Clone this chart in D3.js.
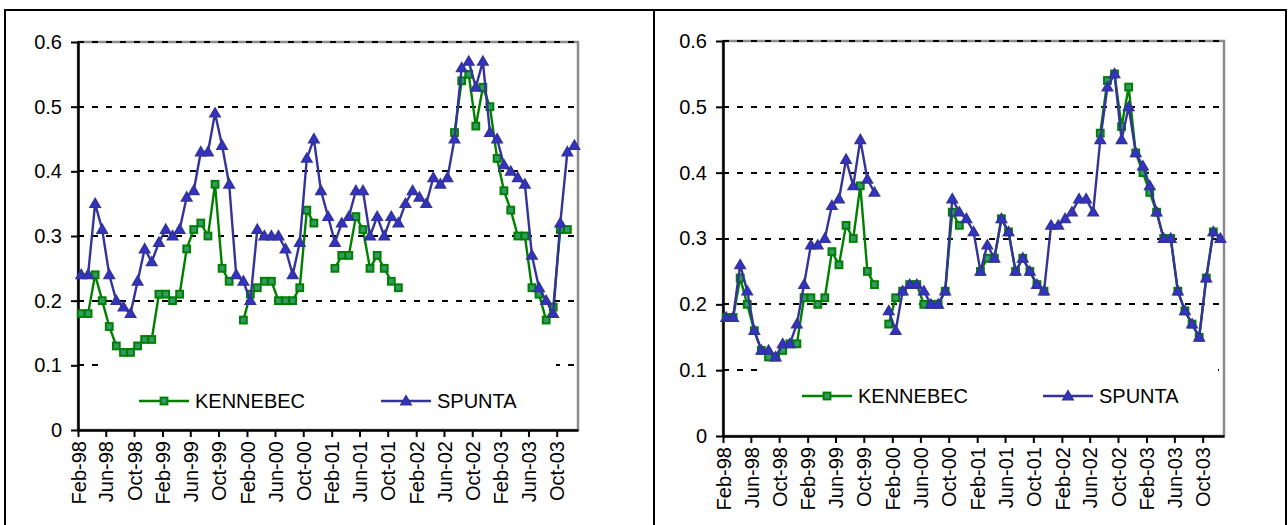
<!DOCTYPE html>
<meta charset="utf-8">

<head>
    <script src="https://d3js.org/d3.v7.min.js"></script>
    <meta charset="utf-8">
    <title>Kennebec / Spunta</title>
    <style>
        body { margin: 0; background: #fff; }
        text { font-family: "Liberation Sans", Arial, sans-serif; }
    </style>
</head>

<body>
    <svg width="1288" height="525"></svg>
    <script>
        // x tick labels (one every 4 months), y ticks
        var tickLabels = ["Feb-98", "Jun-98", "Oct-98", "Feb-99", "Jun-99", "Oct-99", "Feb-00", "Jun-00", "Oct-00",
            "Feb-01", "Jun-01", "Oct-01", "Feb-02", "Jun-02", "Oct-02", "Feb-03", "Jun-03", "Oct-03"]
        var yTicks = [0, 0.1, 0.2, 0.3, 0.4, 0.5, 0.6]
        var seriesNames = ["KENNEBEC", "SPUNTA"]
        var firstMonth = "Feb-98", lastMonth = "Dec-03"

        // left chart, monthly values Feb-98 .. Dec-03 (null = no value)
        var kennebecLeft = [0.18, 0.18, 0.24, 0.20, 0.16, 0.13, 0.12, 0.12, 0.13, 0.14,
            0.14, 0.21, 0.21, 0.20, 0.21, 0.28, 0.31, 0.32, 0.30, 0.38,
            0.25, 0.23, null, 0.17, 0.21, 0.22, 0.23, 0.23, 0.20, 0.20,
            0.20, 0.22, 0.34, 0.32, null, null, 0.25, 0.27, 0.27, 0.33,
            0.31, 0.25, 0.27, 0.25, 0.23, 0.22, null, null, null, null,
            null, null, null, 0.46, 0.54, 0.55, 0.47, 0.53, 0.50, 0.42,
            0.37, 0.34, 0.30, 0.30, 0.22, 0.21, 0.17, 0.19, 0.31, 0.31,
            null]
        var spuntaLeft = [0.24, 0.24, 0.35, 0.31, 0.24, 0.20, 0.19, 0.18, 0.23, 0.28,
            0.26, 0.29, 0.31, 0.30, 0.31, 0.36, 0.37, 0.43, 0.43, 0.49,
            0.44, 0.38, 0.24, 0.23, 0.20, 0.31, 0.30, 0.30, 0.30, 0.28,
            0.24, 0.29, 0.42, 0.45, 0.37, 0.33, 0.29, 0.32, 0.33, 0.37,
            0.37, 0.30, 0.33, 0.30, 0.33, 0.32, 0.35, 0.37, 0.36, 0.35,
            0.39, 0.38, 0.39, 0.45, 0.56, 0.57, 0.53, 0.57, 0.46, 0.45,
            0.41, 0.40, 0.39, 0.38, 0.27, 0.22, 0.20, 0.18, 0.32, 0.43,
            0.44]

        // right chart
        var kennebecRight = [0.18, 0.18, 0.24, 0.20, 0.16, 0.13, 0.12, 0.12, 0.13, 0.14,
            0.14, 0.21, 0.21, 0.20, 0.21, 0.28, 0.26, 0.32, 0.30, 0.38,
            0.25, 0.23, null, 0.17, 0.21, 0.22, 0.23, 0.23, 0.20, 0.20,
            0.20, 0.22, 0.34, 0.32, null, null, 0.25, 0.27, 0.27, 0.33,
            0.31, 0.25, 0.27, 0.25, 0.23, 0.22, null, null, null, null,
            null, null, null, 0.46, 0.54, 0.55, 0.47, 0.53, 0.43, 0.40,
            0.37, 0.34, 0.30, 0.30, 0.22, 0.19, 0.17, 0.15, 0.24, 0.31,
            null]
        var spuntaRight = [0.18, 0.18, 0.26, 0.22, 0.16, 0.13, 0.13, 0.12, 0.14, 0.14,
            0.17, 0.23, 0.29, 0.29, 0.30, 0.35, 0.36, 0.42, 0.38, 0.45,
            0.39, 0.37, null, 0.19, 0.16, 0.22, 0.23, 0.23, 0.22, 0.20,
            0.20, 0.22, 0.36, 0.34, 0.33, 0.31, 0.25, 0.29, 0.27, 0.33,
            0.31, 0.25, 0.27, 0.25, 0.23, 0.22, 0.32, 0.32, 0.33, 0.34,
            0.36, 0.36, 0.34, 0.45, 0.53, 0.55, 0.45, 0.50, 0.43, 0.41,
            0.38, 0.34, 0.30, 0.30, 0.22, 0.19, 0.17, 0.15, 0.24, 0.31,
            0.30]

        var parseMonth = d3.timeParse("%b-%y")
        var months = d3.timeMonth.range(parseMonth(firstMonth), d3.timeMonth.offset(parseMonth(lastMonth), 1))

        var svg = d3.select("svg")
        var fontSize = "20px"

        // table frame
        svg.append("rect").attr("x", 5).attr("y", 10).attr("width", 1281).attr("height", 530)
            .attr("fill", "none").attr("stroke", "#000").attr("stroke-width", 2)
        svg.append("line").attr("x1", 654).attr("x2", 654).attr("y1", 10).attr("y2", 525)
            .attr("stroke", "#000").attr("stroke-width", 2)

        var green = "#008000", greenFill = "#339966", blue = "#333399", blueFill = "#3333cc"

        function drawChart(box, legend, kennebec, spunta) {
            var g = svg.append("g")

            var x = d3.scaleTime()
                .domain([months[0], d3.timeMonth.offset(months[months.length - 1], 1)])
                .range([box.left, box.right])
            var y = d3.scaleLinear().domain([0, 0.6]).range([box.bottom, box.top])

            // points sit in the middle of their month
            function xMid(i) {
                var m = months[i]
                return x(new Date((+m + +d3.timeMonth.offset(m, 1)) / 2))
            }

            // plot area border
            g.append("rect")
                .attr("x", box.left).attr("y", box.top)
                .attr("width", box.right - box.left).attr("height", box.bottom - box.top)
                .attr("fill", "none").attr("stroke", "#8c8c8c").attr("stroke-width", 2.5)

            // gridlines
            g.append("g").selectAll("line")
                .data(yTicks.filter(function (d) { return d > 0 }))
                .join("line")
                .attr("x1", box.left).attr("x2", box.right - 2)
                .attr("y1", function (d) { return Math.round(y(d)) })
                .attr("y2", function (d) { return Math.round(y(d)) })
                .attr("stroke", "#000").attr("stroke-width", 2.2)
                .attr("stroke-dasharray", "6,8")

            // legend background hides the grid under it
            g.append("rect")
                .attr("x", legend.left).attr("y", legend.top)
                .attr("width", legend.right - legend.left).attr("height", legend.bottom - legend.top)
                .attr("fill", "#fff")

            // axes
            var yAxis = d3.axisLeft(y).tickValues(yTicks)
                .tickFormat(function (d) { return d === 0 ? "0" : d3.format(".1f")(d) })
                .tickSize(7).tickSizeOuter(0).tickPadding(9)
            var xAxis = d3.axisBottom(x).tickValues(tickLabels.map(parseMonth))
                .tickFormat(d3.timeFormat("%b-%y"))
                .tickSize(7).tickSizeOuter(0)

            var ya = g.append("g").attr("transform", "translate(" + box.left + ",0)").call(yAxis)
            var xa = g.append("g").attr("transform", "translate(0," + box.bottom + ")").call(xAxis)
            ;[ya, xa].forEach(function (a) {
                a.select(".domain").attr("stroke", "#000").attr("stroke-width", 2.5)
                a.selectAll(".tick line").attr("stroke", "#000").attr("stroke-width", 2)
                a.selectAll("text").attr("fill", "#000").style("font-size", fontSize)
                    .style("font-family", '"Liberation Sans", Arial, sans-serif')
            })
            xa.selectAll(".tick text")
                .attr("transform", "rotate(-90)")
                .attr("x", -11).attr("y", 0).attr("dy", "0.36em")
                .attr("text-anchor", "end")

            // series
            var series = [
                { name: seriesNames[0], values: kennebec, stroke: green, fill: greenFill, shape: "square" },
                { name: seriesNames[1], values: spunta, stroke: blue, fill: blueFill, shape: "triangle" }
            ]

            var line = d3.line()
                .defined(function (d) { return d.v != null })
                .x(function (d) { return xMid(d.i) })
                .y(function (d) { return y(d.v) })

            function marker(sel, s) {
                if (s.shape == "square") {
                    sel.append("rect").attr("x", -3.4).attr("y", -3.4).attr("width", 6.8).attr("height", 6.8)
                        .attr("fill", s.fill).attr("stroke", s.stroke).attr("stroke-width", 2)
                } else {
                    sel.append("path").attr("d", "M0,-5L5,3.6L-5,3.6Z")
                        .attr("fill", s.fill).attr("stroke", s.stroke).attr("stroke-width", 1.7)
                        .attr("stroke-linejoin", "miter")
                }
            }

            series.forEach(function (s) {
                var pts = s.values.map(function (v, i) { return { i: i, v: v } })
                g.append("path").datum(pts)
                    .attr("d", line)
                    .attr("fill", "none").attr("stroke", s.stroke).attr("stroke-width", 2.4)
                    .attr("stroke-linejoin", "round")
                g.append("g").selectAll("g")
                    .data(pts.filter(function (d) { return d.v != null }))
                    .join("g")
                    .attr("transform", function (d) { return "translate(" + xMid(d.i) + "," + y(d.v) + ")" })
                    .each(function () { marker(d3.select(this), s) })
            })

            // legend entries
            series.forEach(function (s, k) {
                var lx = legend.items[k], ly = legend.y
                var e = g.append("g")
                e.append("line").attr("x1", lx).attr("x2", lx + 50).attr("y1", ly).attr("y2", ly)
                    .attr("stroke", s.stroke).attr("stroke-width", 2.4)
                marker(e.append("g").attr("transform", "translate(" + (lx + 25) + "," + ly + ")"), s)
                e.append("text").attr("x", lx + 56).attr("y", ly).attr("dy", "0.36em")
                    .style("font-size", fontSize).attr("fill", "#000")
                    .text(s.name)
            })
        }

        drawChart({ left: 78, right: 578, top: 42, bottom: 430 },
            { left: 99, right: 556, top: 362, bottom: 427, y: 401, items: [139, 381] },
            kennebecLeft, spuntaLeft)

        drawChart({ left: 723, right: 1224, top: 41, bottom: 436 },
            { left: 759, right: 1218, top: 366, bottom: 432, y: 396, items: [802, 1043] },
            kennebecRight, spuntaRight)
    </script>
</body>
